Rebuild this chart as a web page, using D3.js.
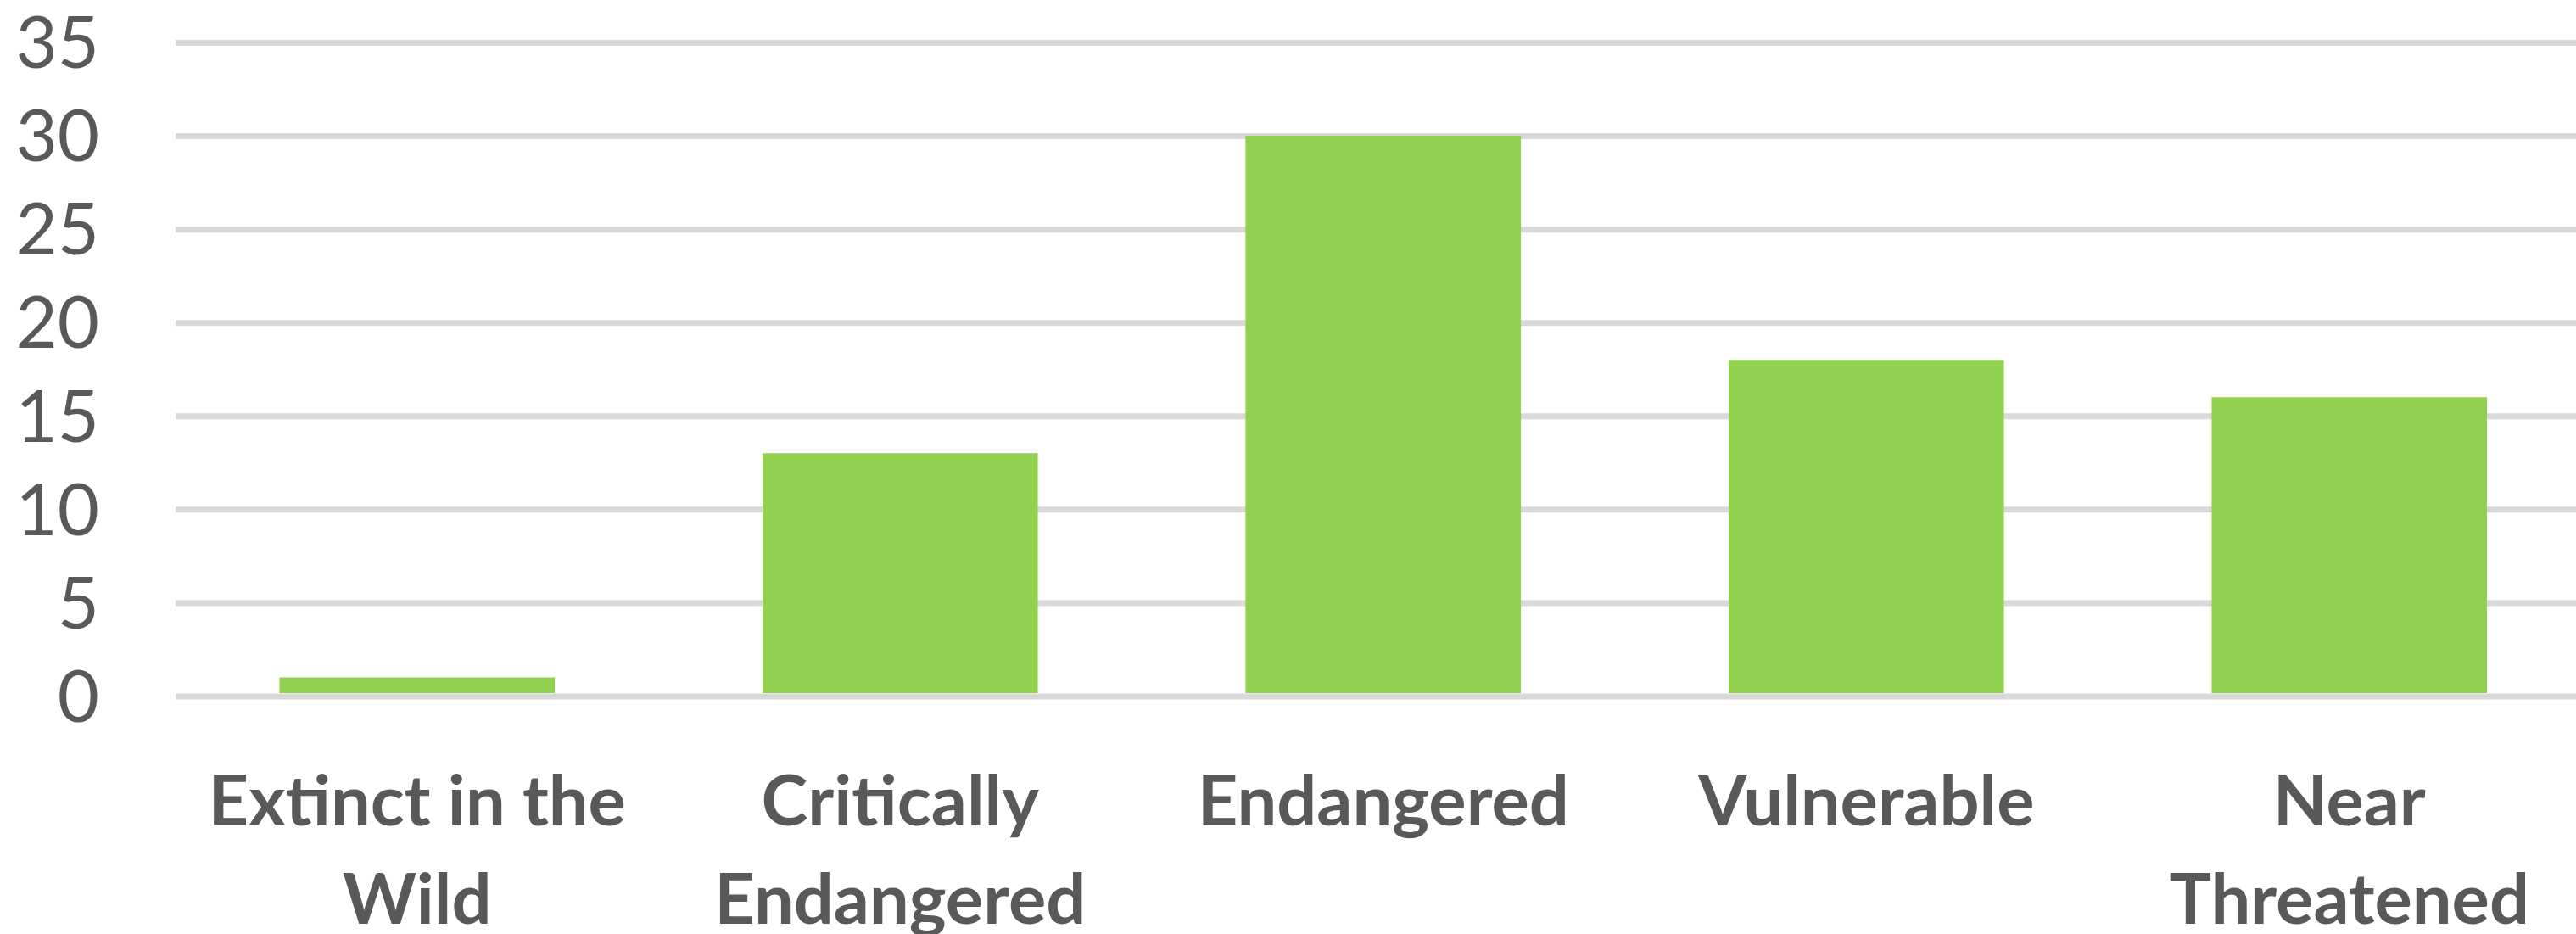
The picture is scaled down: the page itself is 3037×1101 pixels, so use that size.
<!DOCTYPE html>
<html lang="en">
<head>
    <meta charset="UTF-8">
    <script src="https://d3js.org/d3.v7.min.js"></script>
    <title>species by category</title>
    <style>
      html, body { margin: 0; padding: 0; background: #fff; overflow: hidden; }
    </style>
</head>
<body>
    <div id="chart"></div>
<script>

// data
var categories = ["Extinct in the Wild", "Critically Endangered", "Endangered", "Vulnerable", "Near Threatened"];
var categoryLines = [["Extinct in the", "Wild"], ["Critically", "Endangered"], ["Endangered"], ["Vulnerable"], ["Near", "Threatened"]];
var counts = [1, 13, 30, 18, 16];
var yTicks = [0, 5, 10, 15, 20, 25, 30, 35];

var W = 3037, H = 1101;
var plotLeft = 207, plotRight = 3054.5;   // chart is cropped on the right
var plotTop = 50, plotBottom = 820.5;

var svg = d3.select("#chart")
  .append("svg")
    .attr("width", W)
    .attr("height", H);

// scales
var x = d3.scaleBand()
  .domain(categories)
  .range([plotLeft, plotRight])
  .paddingInner(0.43)
  .paddingOuter(0.215);

var y = d3.scaleLinear()
  .domain([0, 35])
  .range([plotBottom, plotTop]);

// y axis + gridlines
var yAxis = svg.append("g")
  .attr("transform", "translate(" + plotLeft + ",0)")
  .call(d3.axisLeft(y).tickValues(yTicks).tickSize(-(W - plotLeft)).tickPadding(90));
yAxis.select(".domain").remove();
yAxis.selectAll(".tick line")
  .attr("stroke", "#d9d9d9")
  .attr("stroke-width", 7);
yAxis.selectAll(".tick text")
  .attr("fill", "#595959")
  .style("font-family", "Lato, 'Open Sans', sans-serif")
  .style("font-size", "85px")
  .attr("dy", "0.35em");

// bars
svg.selectAll(".bar")
  .data(counts)
  .enter()
  .append("rect")
    .attr("class", "bar")
    .attr("x", function(d, i) { return x(categories[i]); })
    .attr("y", function(d) { return y(d); })
    .attr("width", x.bandwidth())
    .attr("height", function(d) { return y(0) - y(d) - 3.5; })
    .attr("fill", "#92d050");

// x axis labels (two lines where the original wraps)
var xAxis = svg.append("g")
  .attr("transform", "translate(0," + plotBottom + ")")
  .call(d3.axisBottom(x).tickSize(0));
xAxis.select(".domain").remove();
xAxis.selectAll(".tick text").remove();
xAxis.selectAll(".tick").each(function(d, i) {
  var t = d3.select(this).append("text")
    .attr("fill", "#595959")
    .attr("text-anchor", "middle")
    .style("font-family", "Lato, 'Open Sans', sans-serif")
    .style("font-weight", "bold")
    .style("font-size", "83px");
  categoryLines[i].forEach(function(line, k) {
    t.append("tspan")
      .attr("x", 0)
      .attr("y", 152 + k * 116)
      .text(line);
  });
});

</script>
</body>
</html>
